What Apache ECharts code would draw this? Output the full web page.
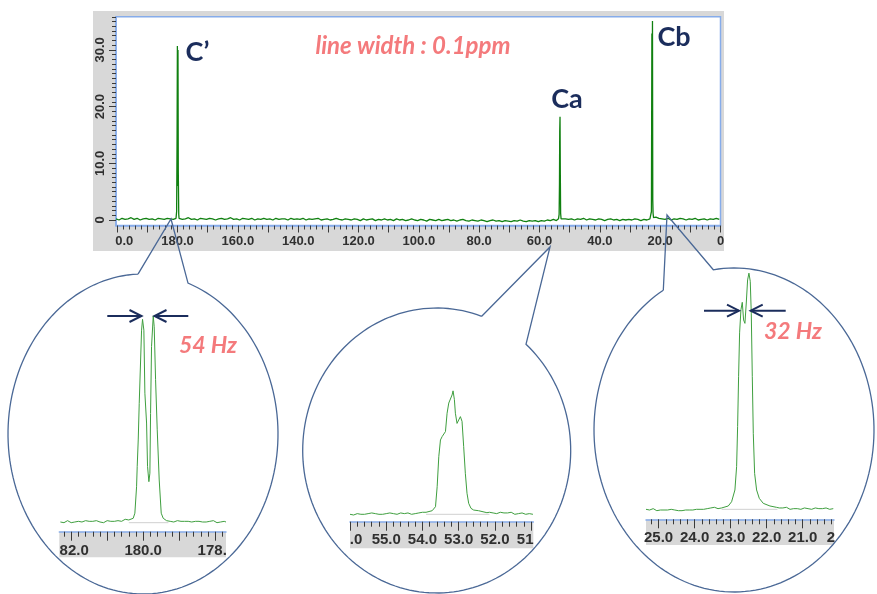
<!DOCTYPE html>
<html>
<head>
<meta charset="utf-8">
<script src="https://cdn.jsdelivr.net/npm/echarts@6/dist/echarts.min.js"></script>
<style>html,body{margin:0;padding:0;background:#fff}#chart{width:877px;height:594px}</style>
</head>
<body>
<div id="chart"></div>
<script>
// ---------------- DATA ----------------
// main spectrum baseline (ppm 200.4 -> 0.4, 1 ppm apart)
const mainNoiseStart = 200.4, mainNoiseStep = -1;
const mainNoise = [
  0.2,0.0,0.3,0.1,0.2,0.4,0.1,0.3,0.0,0.2,
  0.3,0.1,0.2,0.0,0.3,0.2,0.1,0.3,0.2,0.1,
  0.2,0.3,0.1,0.2,0.4,0.1,0.2,0.0,0.3,0.2,
  0.1,0.3,0.2,0.0,0.2,0.3,0.1,0.2,0.4,0.1,
  0.2,0.0,0.3,0.2,0.1,0.3,0.0,0.2,0.1,0.3,
  0.1,0.2,0.0,0.3,0.1,0.2,0.2,0.0,0.3,0.1,
  0.2,0.1,0.3,0.0,0.2,0.1,0.2,0.3,0.0,0.1,
  0.2,0.0,0.1,0.3,0.1,0.0,0.2,0.1,0.0,0.2,
  0.1,-0.1,0.2,0.0,0.1,0.2,-0.1,0.1,0.0,0.2,
  0.0,0.1,-0.1,0.2,0.0,0.1,-0.1,0.0,0.2,0.0,
  -0.1,0.1,0.0,-0.2,0.1,0.0,-0.1,0.1,-0.1,0.0,
  0.1,-0.1,0.0,-0.2,0.0,0.1,-0.1,-0.2,0.0,-0.1,
  -0.2,0.0,-0.1,-0.3,-0.1,0.0,-0.2,-0.1,-0.3,-0.1,
  -0.2,-0.3,-0.1,-0.2,0.0,-0.2,-0.3,-0.1,-0.2,-0.1,
  -0.3,-0.1,-0.2,0.0,-0.1,0.1,-0.1,0.0,0.1,0.2,
  0.1,0.2,0.0,0.2,0.1,0.3,0.0,0.2,0.1,0.0,
  0.2,0.1,-0.1,0.1,0.2,0.0,0.1,-0.1,0.1,0.0,
  0.1,0.0,0.2,0.1,-0.1,0.1,0.0,0.2,0.3,0.5,
  0.3,0.2,0.1,0.3,0.0,0.2,0.1,0.3,0.2,0.0,
  0.2,0.1,0.3,0.0,0.1,0.2,0.0,0.2,0.1,0.3,
  0.1
];
// main spectrum peaks
const cpPpm = [180.5,180.3,180.15,180.05,179.95,179.85,179.75,179.6,179.5];
const cpInt = [0.3,1.5,15.2,30.7,6.0,30.0,8.5,1.0,0.3];
const caPpm = [53.7,53.5,53.38,53.3,53.2,53.1,53.0,52.85];
const caInt = [0.2,1.0,6.5,15.5,18.2,8.0,1.2,0.2];
const cbPpm = [23.1,22.9,22.75,22.65,22.55,22.45,22.35,22.2];
const cbInt = [0.3,1.5,32.9,20.0,35.1,3.5,1.2,0.4];

// inset 1 (C')
const c1LeftStart = 182.30, c1RightStart = 179.30, insetStep = -0.05;
const c1Left = [0.1,0.2,0.0,0.2,0.3,0.1,0.0,0.2,0.1,0.3, 0.2,0.0,0.1,0.2,0.3,0.1,0.2,0.0,0.2,0.1,
  0.3,0.2,0.1,0.2,0.0,0.2,0.3,0.1,0.2,0.3, 0.2,0.1,0.3,0.4,0.2,0.3,0.5,0.3,0.4];
const c1PeakPpm = [180.369,180.277,180.231,180.184,180.166,180.138,180.110,180.045,180.018,179.981,179.953,
  179.906,179.879,179.842,179.814,179.795,179.768,179.721,179.694,179.656,179.610,179.555,179.499,179.444,179.351];
const c1PeakInt = [0.3,0.65,1.4,5.3,8.3,12.2,17.6,28.4,30.0,28.4,19.1,
  14.7,8.3,6.05,7.3,16.1,26.0,30.5,28.9,21.1,13.7,6.3,1.4,0.65,0.3];
const c1Right = [0.3,0.2,0.3,0.1,0.2,0.3,0.1,0.2,0.0,0.2, 0.1,0.2,0.3,0.1,0.0,0.2,0.1,0.2,0.0,0.1,
  0.2,0.1,0.0,0.2,0.1,0.3,0.1,0.0,0.2,0.1, 0.0,0.2,0.1];

// inset 2 (Ca)
const c2LeftStart = 56.00, c2RightStart = 52.15;
const c2Left = [0.0,0.1,-0.1,0.0,0.1,-0.1,0.0,0.2,0.0,-0.1, 0.1,0.3,0.2,0.0,0.1,-0.1,0.0,0.1,0.0,-0.1,
  0.1,0.0,0.2,0.0,0.1,-0.1,0.0,0.1,0.2,0.0, 0.1,0.0,0.2,0.1,0.0,0.2,0.1,0.3,0.2,0.1, 0.3,0.2,0.3];
const c2PeakPpm = [53.869,53.732,53.686,53.640,53.594,53.549,53.503,53.457,53.411,53.365,53.320,53.274,53.228,
  53.182,53.155,53.118,53.091,53.045,53.000,52.953,52.907,52.862,52.816,52.770,52.724,52.660,52.587,52.450,52.221];
const c2PeakInt = [0.24,0.53,0.74,1.12,4.07,8.5,10.96,11.45,11.7,12.2,14.9,16.4,16.6,
  17.6,18.2,16.9,14.9,13.4,13.9,14.4,13.7,9.97,6.05,3.1,1.62,0.88,0.63,0.53,0.24];
const c2Right = [0.3,0.4,0.2,0.3,0.1,0.2,0.3,0.1,0.2,0.0, 0.2,0.1,0.3,0.1,0.0,0.2,0.1,0.0,0.2,0.1,
  0.0,0.2,0.1,0.2,0.0];

// inset 3 (Cb)
const c3LeftStart = 25.35, c3RightStart = 21.70;
const c3Left = [0.0,0.1,-0.1,0.0,0.1,-0.1,-0.2,0.0,-0.1,-0.2, -0.1,-0.3,-0.1,-0.2,0.0,-0.2,-0.1,-0.3,-0.2,-0.1,
  -0.2,0.0,-0.1,-0.2,-0.1,0.0,-0.1,0.1,0.0,-0.1, 0.0,0.1,0.0,0.2,0.1,0.0,0.2,0.1,0.3,0.2, 0.1,0.3,0.2];
const c3PeakPpm = [23.205,23.066,22.973,22.881,22.834,22.806,22.779,22.751,22.714,22.677,22.640,22.603,22.566,
  22.529,22.492,22.455,22.427,22.399,22.371,22.334,22.279,22.205,22.094,21.908,21.723];
const c3PeakInt = [0.29,0.49,1.12,2.85,6.3,12.2,19.6,26.0,29.4,30.5,27.9,27.4,30.4,
  33.8,34.8,33.6,28.9,19.6,11.2,5.3,2.85,1.62,0.88,0.49,0.29];
const c3Right = [0.3,0.2,0.4,0.2,0.1,0.3,0.2,0.0,0.2,0.1, 0.3,0.1,0.2,0.0,0.1,0.2,0.0,0.1,0.2,0.0,
  0.1,0.2,0.0,0.1,0.2,0.1,0.0,0.2,0.1,0.0, 0.2,0.1];

// tick labels (as visible in the picture)
const mainXLabelVals = [200,180,160,140,120,100,80,60,40,20,0];
const mainXLabels = ['0.0','180.0','160.0','140.0','120.0','100.0','80.0','60.0','40.0','20.0','0'];
const mainYLabelVals = [0,10,20,30];
const mainYLabels = ['0','10.0','20.0','30.0'];
const c1LabelVals = [182,180,178];
const c1Labels = ['82.0','180.0','178.'];
const c2LabelVals = [56,55,54,53,52,51];
const c2Labels = ['.0','55.0','54.0','53.0','52.0','51'];
const c3LabelVals = [25,24,23,22,21,20.13];
const c3Labels = ['25.0','24.0','23.0','22.0','21.0','2'];

// texts
const peakNames = ['C\u2019','Ca','Cb'];
const noteText = 'line width : 0.1ppm';
const couplings = ['54 Hz','32 Hz'];

// ---------------- BUILD ----------------
function sampled(start, step, vals){ return vals.map((v,i)=>[+(start+i*step).toFixed(4), v]); }
function pairs(p, v){ return p.map((x,i)=>[x, v[i]]); }

const peaks = [[cpPpm,cpInt],[caPpm,caInt],[cbPpm,cbInt]];
let mainData = sampled(mainNoiseStart, mainNoiseStep, mainNoise)
  .filter(pt => !peaks.some(pk => pt[0] <= pk[0][0] && pt[0] >= pk[0][pk[0].length-1]));
peaks.forEach(pk => { mainData = mainData.concat(pairs(pk[0], pk[1])); });
mainData.sort((a,b)=>b[0]-a[0]);

const c1Data = sampled(c1LeftStart, insetStep, c1Left).concat(pairs(c1PeakPpm,c1PeakInt), sampled(c1RightStart, insetStep, c1Right));
const c2Data = sampled(c2LeftStart, insetStep, c2Left).concat(pairs(c2PeakPpm,c2PeakInt), sampled(c2RightStart, insetStep, c2Right));
const c3Data = sampled(c3LeftStart, insetStep, c3Left).concat(pairs(c3PeakPpm,c3PeakInt), sampled(c3RightStart, insetStep, c3Right));

function range(a, b, step, skip){
  const out = [];
  const n = Math.round((b-a)/step);
  for (let i=0;i<=n;i++){ const v = +(a+i*step).toFixed(4); if (!skip || !skip(v)) out.push(v); }
  return out;
}
const isInt = v => Math.abs(v-Math.round(v))<1e-6;

const TICK_COLOR = '#3a3a3a';
const AXIS_BLUE = '#86acea';
const LABEL_COLOR = '#303030';

function labelCfg(vals, texts, size, margin, shifts){
  const rich = {};
  texts.forEach((t,i)=>{
    const s = (shifts && shifts[t]) || 0;
    rich['k'+i] = {fontFamily:'Liberation Sans', fontWeight:'bold', fontSize:size, color:LABEL_COLOR,
      padding: s>0 ? [0,0,0,2*s] : (s<0 ? [0,-2*s,0,0] : [0,0,0,0])};
  });
  return {
    show:true, customValues: vals, margin: margin,
    fontFamily:'Liberation Sans', fontWeight:'bold', fontSize:size, color:LABEL_COLOR,
    formatter: function(v){
      const i = vals.findIndex(x=>Math.abs(x-v)<1e-4);
      return i<0 ? '' : '{k'+i+'|'+texts[i]+'}';
    },
    rich: rich
  };
}

function xPair(grid, min, max, major, minor, lab, majorLen, minorLen){
  return [
    {type:'value', gridIndex:grid, inverse:true, min:min, max:max, position:'bottom',
      axisLine:{show:true, onZero:false, lineStyle:{color:AXIS_BLUE, width:1.5}},
      axisTick:{show:true, customValues:major, length:majorLen, lineStyle:{color:TICK_COLOR, width:1}},
      axisLabel:lab, splitLine:{show:false}},
    {type:'value', gridIndex:grid, inverse:true, min:min, max:max, position:'bottom',
      axisLine:{show:false, onZero:false}, axisLabel:{show:false}, splitLine:{show:false},
      axisTick:{show:true, customValues:minor, length:minorLen, lineStyle:{color:TICK_COLOR, width:1}}}
  ];
}

const xAxes = [].concat(
  xPair(0, 0, 200.4, range(0,200,10), range(0,200,2,v=>v%10===0),
    labelCfg(mainXLabelVals, mainXLabels, 13, 9, {'0.0':7}), 7, 4),
  xPair(1, 177.70, 182.33, [178,179,180,181,182], range(177.8,182.2,0.2,isInt),
    labelCfg(c1LabelVals, c1Labels, 15, 12, {'82.0':3,'178.':-3}), 9, 5),
  xPair(2, 50.94, 56.0, [51,52,53,54,55,56], range(51.0,55.8,0.2,isInt),
    labelCfg(c2LabelVals, c2Labels, 15, 11, {'.0':6,'51':-6}), 9, 5),
  xPair(3, 20.13, 25.35, [21,22,23,24,25], range(20.2,25.2,0.2,isInt),
    labelCfg(c3LabelVals, c3Labels, 15, 11, {'2':-3}), 9, 5)
);

const yLab = labelCfg(mainYLabelVals, mainYLabels, 13, 9, {});
yLab.rotate = 90;
const yAxes = [
  {type:'value', gridIndex:0, min:-0.97, max:35.86, position:'left',
    axisLine:{show:true, onZero:false, lineStyle:{color:AXIS_BLUE, width:1.5}},
    axisTick:{show:true, customValues:[0,10,20,30], length:7, lineStyle:{color:TICK_COLOR}},
    axisLabel:yLab, splitLine:{show:false}},
  {type:'value', gridIndex:0, min:-0.97, max:35.86, position:'left',
    axisLine:{show:false, onZero:false}, axisLabel:{show:false}, splitLine:{show:false},
    axisTick:{show:true, customValues:range(10/12, 35.84, 10/12, v=>Math.abs(v/10-Math.round(v/10))<1e-3), length:4, lineStyle:{color:TICK_COLOR}}},
  {type:'value', gridIndex:1, min:-1.33, max:32.85, show:false, axisLine:{onZero:false}},
  {type:'value', gridIndex:2, min:-1.09, max:19.8, show:false, axisLine:{onZero:false}},
  {type:'value', gridIndex:3, min:-1.47, max:36.0, show:false, axisLine:{onZero:false}}
];

// speech-bubble outlines
function bubble(cx,cy,rx,ry,ax,tipx,tipy,bx){
  const ay = cy - ry*Math.sqrt(1-Math.pow((ax-cx)/rx,2));
  const by = cy - ry*Math.sqrt(1-Math.pow((bx-cx)/rx,2));
  const tA = Math.atan2((ay-cy)/ry,(ax-cx)/rx);
  const tB = Math.atan2((by-cy)/ry,(bx-cx)/rx);
  let end = tA; while (end <= tB) end += 2*Math.PI;
  const pts = [[ax,ay],[tipx,tipy],[bx,by]];
  const N = 160;
  for (let i=1;i<=N;i++){ const t = tB+(end-tB)*i/N; pts.push([cx+rx*Math.cos(t), cy+ry*Math.sin(t)]); }
  return {type:'polyline', z:3, silent:true, shape:{points:pts},
    style:{stroke:'#4a6896', lineWidth:1.3, fill:null}};
}
function arrow(x1, x2, y){
  const d = x2>x1 ? -12 : 12;
  return [
    {type:'polyline', z:10, shape:{points:[[x1,y],[x2,y]]}, style:{stroke:'#1b2d5c', lineWidth:2, fill:null}},
    {type:'polyline', z:10, shape:{points:[[x2+d,y-6],[x2,y],[x2+d,y+6]]}, style:{stroke:'#1b2d5c', lineWidth:2, fill:null}}
  ];
}
function txt(x,y,t,font,color){
  return {type:'text', z:10, x:x, y:y, style:{text:t, font:font, fill:color, align:'center', verticalAlign:'middle'}};
}
const NAVY = '#1b2d5c', PINK = '#f47a7c';

const graphics = [
  {type:'rect', z:-10, silent:true, shape:{x:93, y:11, width:631, height:240}, style:{fill:'#d8d8d8'}},
  {type:'rect', z:-5, silent:true, shape:{x:59.3, y:531.7, width:166.7, height:25.6}, style:{fill:'#d8d8d8'}},
  {type:'rect', z:-5, silent:true, shape:{x:350, y:521.7, width:183.3, height:26.6}, style:{fill:'#d8d8d8'}},
  {type:'rect', z:-5, silent:true, shape:{x:646, y:519.3, width:188, height:25.7}, style:{fill:'#d8d8d8'}},
  bubble(143,434,135,160,138,171,219,188),
  bubble(436.7,450.5,134,142.5,481.7,550,247,526),
  bubble(734,430,140,162,663.3,667,215,713.3),
  txt(197.5,52,peakNames[0],'bold 27px Lato',NAVY),
  txt(567,99,peakNames[1],'bold 27px Lato',NAVY),
  txt(674,37,peakNames[2],'bold 27px Lato',NAVY),
  txt(413,46,noteText,'italic bold 24px Lato',PINK),
  txt(208,346,couplings[0],'italic bold 23px Lato',PINK),
  txt(793,332,couplings[1],'italic bold 23px Lato',PINK)
].concat(arrow(107.3,141.5,316), arrow(188.3,154.5,316), arrow(704,739,310.7), arrow(785.7,750.7,310.7));

function lineSeries(xi, yi, data, color, w){
  return {type:'line', xAxisIndex:xi, yAxisIndex:yi, data:data, showSymbol:false, symbol:'none',
    lineStyle:{color:color, width:w}, itemStyle:{color:color}, silent:true, animation:false, z:2};
}
function zeroLine(xi, yi, a, b){
  return {type:'line', xAxisIndex:xi, yAxisIndex:yi, data:[[a,0],[b,0]], showSymbol:false, symbol:'none',
    lineStyle:{color:'#d0d0d0', width:1}, silent:true, animation:false, z:1};
}

const option = {
  animation:false,
  backgroundColor:'#ffffff',
  grid:[
    {left:116, top:16.7, width:604.5, height:208.8, show:true, backgroundColor:'#ffffff', borderColor:AXIS_BLUE, borderWidth:1.5},
    {left:59.3, top:300, width:166.7, height:231.7},
    {left:350, top:380, width:183.3, height:141.7},
    {left:646, top:265, width:188, height:254.3}
  ],
  xAxis:xAxes,
  yAxis:yAxes,
  graphic:{elements:graphics},
  series:[
    lineSeries(0,0,mainData,'#108010',1.3),
    zeroLine(2,2,180.40,179.30),
    lineSeries(2,2,c1Data,'#3f9f3f',1),
    zeroLine(4,3,53.90,52.15),
    lineSeries(4,3,c2Data,'#3f9f3f',1),
    zeroLine(6,4,23.25,21.70),
    lineSeries(6,4,c3Data,'#3f9f3f',1)
  ]
};
const chart = echarts.init(document.getElementById('chart'), null, {renderer:'canvas'});
chart.setOption(option);
</script>
</body>
</html>
